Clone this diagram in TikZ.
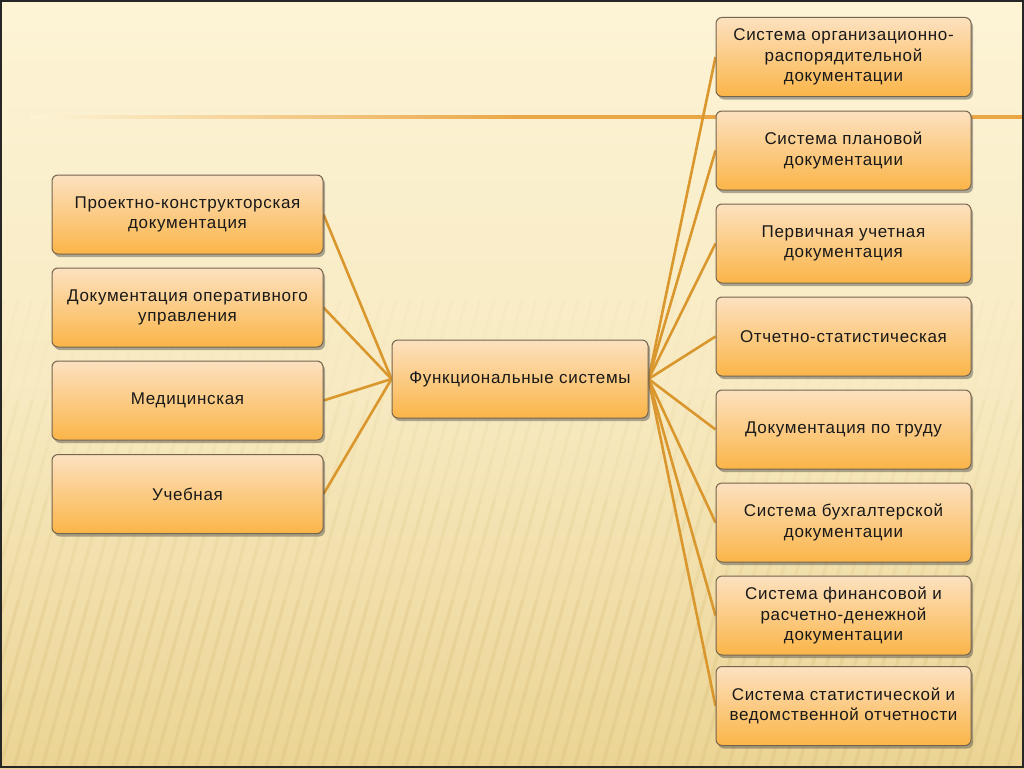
\documentclass[tikz,border=0pt]{standalone}
\usepackage{fontspec}
\setmainfont{Liberation Sans}[LetterSpace=4]
\usetikzlibrary{shadows}
\pgfdeclarelayer{bg}
\pgfdeclarelayer{links}
\pgfsetlayers{bg,links,main}
\definecolor{bgtop}{HTML}{FDF4D6}
\definecolor{bgbot}{HTML}{EBD494}
\definecolor{linec}{HTML}{D9972E}
\definecolor{hline}{HTML}{EAA645}
\definecolor{boxtop}{HTML}{FCE1C0}
\definecolor{boxbot}{HTML}{FBB548}
\definecolor{boxdraw}{HTML}{75644E}
\definecolor{stripe}{HTML}{D9BF78}
\tikzset{
  box/.style={draw=boxdraw, line width=1pt, rounded corners=6pt,
    top color=boxtop, bottom color=boxbot, inner sep=0pt,
    align=center, font=\fontsize{17}{20.5}\selectfont, text=black!90,
    drop shadow={shadow xshift=2pt, shadow yshift=-3pt, opacity=0.45, fill=black!70}},
  lbox/.style={box, minimum width=271pt, minimum height=79pt},
  rbox/.style={box, minimum width=255pt, minimum height=79pt},
  cbox/.style={box, minimum width=256pt, minimum height=78pt},
  conn/.style={draw=linec, line width=2.6pt}
}
\begin{document}
\begin{tikzpicture}[x=1pt,y=-1pt]
\useasboundingbox (0,0) rectangle (1024,768);
\begin{pgfonlayer}{bg}
\shade[top color=bgtop, bottom color=bgbot, middle color=bgtop!70!bgbot] (0,0) rectangle (1024,768);
\foreach \top/\op in {300/0.04,400/0.06,500/0.08,600/0.11} {
  \begin{scope}
  \clip (0,\top) rectangle (1024,768);
  \foreach \i in {-20,...,80} {
    \draw[stripe, line width=3pt, opacity=\op] (\i*14,768) -- (\i*14+130,300);
  }
  \end{scope}
}
\shade[left color=bgtop, right color=hline, middle color=hline] (30,115.5) rectangle (1024,118.5);
\draw[black!85, line width=2pt] (1,1) rectangle (1023,767);
\end{pgfonlayer}
% nodes
\node[lbox] (L1) at (187.5,214.5) {Проектно-конструкторская\\документация};
\node[lbox] (L2) at (187.5,307.5) {Документация оперативного\\управления};
\node[lbox] (L3) at (187.5,400.5) {Медицинская};
\node[lbox] (L4) at (187.5,494) {Учебная};
\node[cbox] (C) at (520,379) {Функциональные системы};
\node[rbox] (R1) at (843.5,57) {Система организационно-\\распорядительной\\документации};
\node[rbox] (R2) at (843.5,150.5) {Система плановой\\документации};
\node[rbox] (R3) at (843.5,243.5) {Первичная учетная\\документация};
\node[rbox] (R4) at (843.5,336.5) {Отчетно-статистическая};
\node[rbox] (R5) at (843.5,429.5) {Документация по труду};
\node[rbox] (R6) at (843.5,522.5) {Система бухгалтерской\\документации};
\node[rbox] (R7) at (843.5,615.5) {Система финансовой и\\расчетно-денежной\\документации};
\node[rbox] (R8) at (843.5,706) {Система статистической и\\ведомственной отчетности};
\begin{pgfonlayer}{links}
\foreach \n in {L1,L2,L3,L4} \draw[conn] (\n.east) -- (C.west);
\foreach \n in {R1,R2,R3,R4,R5,R6,R7,R8} \draw[conn] (C.east) -- (\n.west);
\end{pgfonlayer}
\end{tikzpicture}
\end{document}
